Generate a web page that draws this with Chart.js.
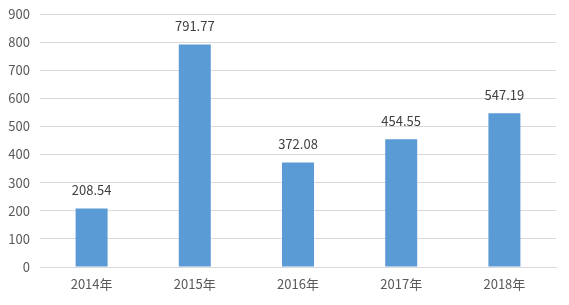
<!DOCTYPE html>
<html>
<head>
<meta charset="utf-8">
<script src="https://cdn.jsdelivr.net/npm/chart.js@4/dist/chart.umd.min.js"></script>
<style>
  html, body { margin: 0; padding: 0; background: #ffffff; }
  #wrap { width: 569px; height: 305px; }
</style>
</head>
<body>
<div id="wrap"><canvas id="c" width="569" height="305"></canvas></div>
<script>
const categories = ['2014年', '2015年', '2016年', '2017年', '2018年'];
const values = [208.54, 791.77, 372.08, 454.55, 547.19];
const yTicks = [0, 100, 200, 300, 400, 500, 600, 700, 800, 900];

const FONT = "'Noto Sans CJK SC', 'Noto Sans', sans-serif";
const TEXT = '#595959';

// Writes each bar's value just above it
const valueLabels = {
  id: 'valueLabels',
  afterDatasetsDraw(chart) {
    const ctx = chart.ctx;
    const meta = chart.getDatasetMeta(0);
    ctx.save();
    ctx.font = '13px ' + FONT;
    ctx.fillStyle = '#404040';
    ctx.textAlign = 'center';
    ctx.textBaseline = 'middle';
    meta.data.forEach((bar, i) => {
      ctx.fillText(values[i].toFixed(2), bar.x, bar.y - 18);
    });
    ctx.restore();
  }
};

new Chart(document.getElementById('c'), {
  type: 'bar',
  data: {
    labels: categories,
    datasets: [{
      data: values,
      backgroundColor: '#5B9BD5',
      borderWidth: 0,
      categoryPercentage: 1,
      barPercentage: 0.31
    }]
  },
  options: {
    responsive: false,
    animation: false,
    layout: { padding: { top: 14, right: 13, bottom: 0, left: 0 } },
    plugins: { legend: { display: false }, tooltip: { enabled: false } },
    scales: {
      x: {
        grid: { display: false, drawTicks: false },
        border: { display: true, color: '#D9D9D9', width: 1 },
        ticks: { color: TEXT, font: { family: FONT, size: 13 }, padding: 9 },
        afterFit(scale) { scale.height = 38; }
      },
      y: {
        min: 0,
        max: 900,
        afterBuildTicks(scale) { scale.ticks = yTicks.map(v => ({ value: v })); },
        grid: { color: '#D9D9D9', drawTicks: false },
        border: { display: false },
        ticks: { color: TEXT, font: { family: FONT, size: 13 }, padding: 10 },
        afterFit(scale) { scale.width = 40; scale.paddingTop = 0; }
      }
    }
  },
  plugins: [valueLabels]
});
</script>
</body>
</html>
